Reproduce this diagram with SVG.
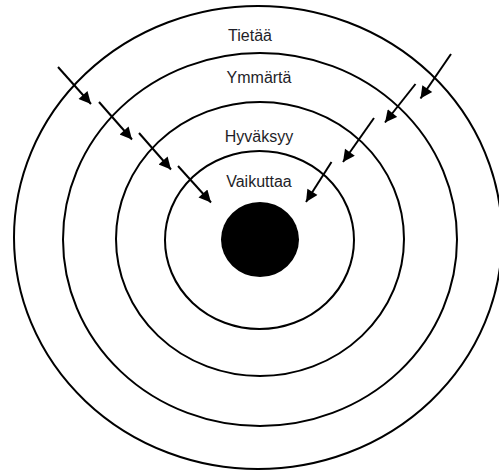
<svg xmlns="http://www.w3.org/2000/svg" width="499" height="470" viewBox="0 0 499 470">
<style>
.ring{fill:none;stroke:#000;stroke-width:2}
.lbl{font-family:"Liberation Sans",Arial,sans-serif;font-size:16px;fill:#1e1e28;text-anchor:middle}
.arr{stroke:#000;stroke-width:2;fill:none;marker-end:url(#ah)}
</style>
<defs>
<marker id="ah" viewBox="0 0 10 10" refX="10" refY="5" markerWidth="7" markerHeight="6" markerUnits="strokeWidth" orient="auto">
<path d="M0,0 L10,5 L0,10 z" fill="#000"/>
</marker>
</defs>
<rect width="499" height="470" fill="#fff"/>
<g id="ring-tietaa">
<ellipse class="ring" cx="258" cy="237.5" rx="244" ry="231.5"/>
<text class="lbl" x="250" y="41">Tietää</text>
</g>
<g id="ring-ymmarta">
<ellipse class="ring" cx="260" cy="239.5" rx="197" ry="186.5"/>
<text class="lbl" x="259" y="83">Ymmärtä</text>
</g>
<g id="ring-hyvaksyy">
<ellipse class="ring" cx="260" cy="239" rx="144" ry="137"/>
<text class="lbl" x="259" y="142">Hyväksyy</text>
</g>
<g id="ring-vaikuttaa">
<ellipse class="ring" cx="259.5" cy="240" rx="94.5" ry="89"/>
<text class="lbl" x="259" y="187">Vaikuttaa</text>
</g>
<g id="core">
<ellipse cx="260" cy="239.5" rx="39" ry="37.5" fill="#000"/>
</g>
<g id="connectors">
<line class="arr" x1="58" y1="67" x2="91" y2="104"/>
<line class="arr" x1="99" y1="102" x2="132" y2="139.5"/>
<line class="arr" x1="139" y1="133" x2="171" y2="169.5"/>
<line class="arr" x1="178" y1="166" x2="211" y2="202.5"/>
<line class="arr" x1="451" y1="54" x2="420.5" y2="98.5"/>
<line class="arr" x1="415.5" y1="84" x2="385" y2="122.5"/>
<line class="arr" x1="374" y1="118" x2="343" y2="162"/>
<line class="arr" x1="331.5" y1="162" x2="306" y2="202"/>
</g>
</svg>
